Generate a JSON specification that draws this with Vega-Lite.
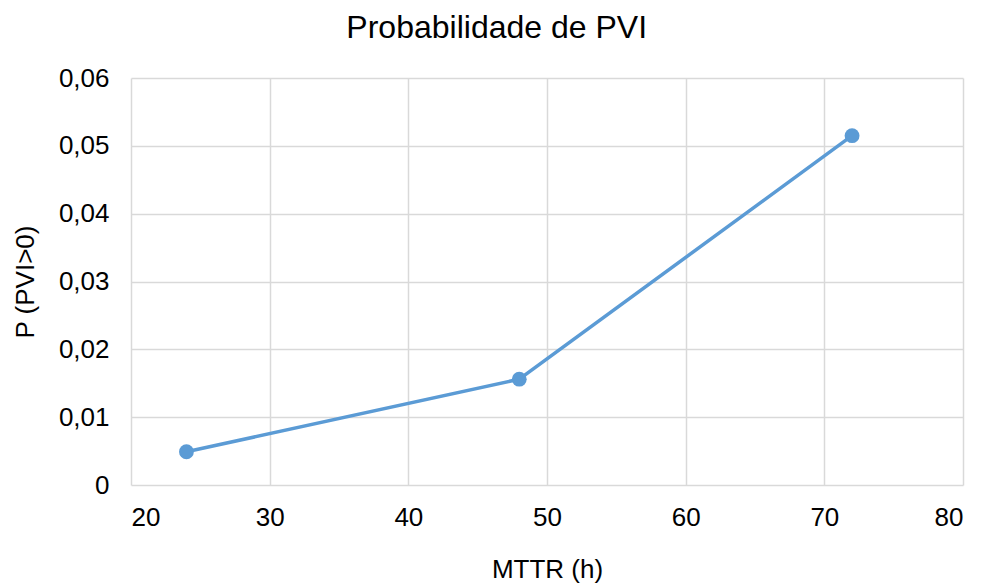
{
  "$schema": "https://vega.github.io/schema/vega-lite/v6.json",
  "width": 832,
  "height": 407,
  "autosize": {"type": "none"},
  "padding": {"left": 131, "top": 78, "right": 19, "bottom": 98},
  "background": "white",
  "title": {
    "text": "Probabilidade de PVI",
    "font": "Liberation Sans",
    "fontSize": 32,
    "fontWeight": "normal",
    "color": "#000000",
    "frame": "bounds",
    "anchor": "middle",
    "dx": 9,
    "offset": 20
  },
  "data": {
    "values": [
      {"mttr": 24, "p": 0.0049},
      {"mttr": 48, "p": 0.0156},
      {"mttr": 72, "p": 0.0515}
    ]
  },
  "config": {
    "view": {"stroke": null},
    "axis": {
      "labelFont": "Liberation Sans",
      "titleFont": "Liberation Sans",
      "labelFontSize": 26,
      "titleFontSize": 26,
      "titleFontWeight": "normal",
      "labelColor": "#000000",
      "titleColor": "#000000",
      "gridColor": "#d9d9d9",
      "gridWidth": 1.5,
      "ticks": false
    }
  },
  "mark": {"type": "line", "color": "#5b9bd5", "strokeWidth": 3.5, "point": {"filled": true, "size": 220, "color": "#5b9bd5", "opacity": 1}},
  "encoding": {
    "x": {
      "field": "mttr",
      "type": "quantitative",
      "title": "MTTR (h)",
      "scale": {"domain": [20, 80], "nice": false},
      "axis": {"values": [20, 30, 40, 50, 60, 70, 80], "labelPadding": 19, "titlePadding": 26, "domain": false}
    },
    "y": {
      "field": "p",
      "type": "quantitative",
      "title": "P (PVI>0)",
      "scale": {"domain": [0, 0.06], "nice": false},
      "axis": {
        "values": [0, 0.01, 0.02, 0.03, 0.04, 0.05, 0.06],
        "labelExpr": "datum.value == 0 ? '0' : replace(format(datum.value, '.2f'), '.', ',')",
        "labelPadding": 22,
        "titlePadding": 20,
        "domain": false
      }
    }
  }
}
